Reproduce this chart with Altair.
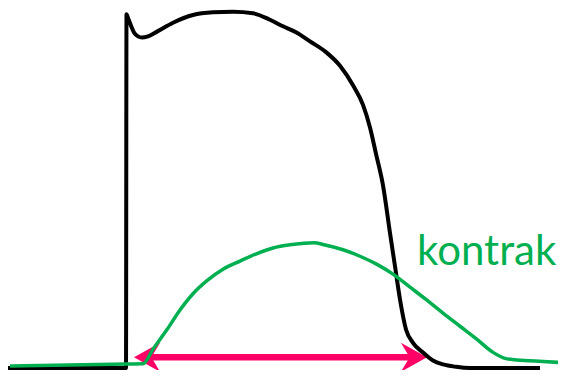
import altair as alt
import pandas as pd

# ---- data ----
# Action potential (black): time (ms, 0 = upstroke) and membrane potential (mV)
ap_t = [-119, 0, 0.5, 2, 5, 8, 12, 16, 22, 31, 47, 67, 87, 107, 127, 144, 157, 170,
        184, 200, 214, 227, 237, 244, 250, 257, 264, 269, 274, 280, 287, 297, 307,
        317, 330, 344, 414]
ap_v = [-90, -90, 29.3, 28.0, 25.4, 23.1, 21.8, 21.4, 21.8, 23.4, 26.4, 29.0, 29.9,
        30.1, 29.6, 27.4, 25.2, 23.2, 20.1, 16.5, 11.9, 5.3, -1.3, -8.9, -17.8,
        -28.4, -44.5, -55.7, -66.9, -77.0, -81.5, -84.8, -87.5, -88.8, -89.6, -90, -90]

# Contraction (green): time (ms) and normalised force
c_t = [-116, 1, 17, 27, 41, 54, 67, 81, 97, 114, 131, 147, 164, 178, 188, 198,
       217, 234, 251, 267, 284, 301, 317, 334, 351, 367, 381, 391, 417, 440]
c_f = [0.0, 0.016, 0.018, 0.137, 0.296, 0.455, 0.587, 0.693, 0.786, 0.852, 0.913,
       0.958, 0.984, 0.996, 1.0, 0.985, 0.944, 0.891, 0.825, 0.746, 0.640, 0.534,
       0.429, 0.323, 0.217, 0.111, 0.058, 0.050, 0.037, 0.026]

# Double arrow (duration of contraction)
arrow_t = [8, 301]
arrow_v = -86.4

label = "kontrak"
label_t = 291
label_v = -55.4

# ---- styling ----
BLACK = "#000000"
GREEN = "#00B050"
PINK = "#FF0066"
T_DOMAIN = [-118, 432]
V_DOMAIN = [-90.674, 31.365]
F_DOMAIN = [-0.0321, 2.9057]
HEAD = 14.5  # half-size of arrow head in px (1 ms == 1 px here)
HEAD_PATH = "M1,0L-0.8,-1L-0.2,0L-0.8,1Z"

df_ap = pd.DataFrame({"t": ap_t, "v": ap_v})
df_c = pd.DataFrame({"t": c_t, "f": c_f})
df_shaft = pd.DataFrame({"t0": [arrow_t[0] + HEAD], "t1": [arrow_t[1] - HEAD], "v": [arrow_v]})
df_right = pd.DataFrame({"t": [arrow_t[1] - HEAD], "v": [arrow_v]})
df_left = pd.DataFrame({"t": [arrow_t[0] + HEAD], "v": [arrow_v]})
df_label = pd.DataFrame({"t": [label_t], "v": [label_v], "text": [label]})

xs = alt.Scale(domain=T_DOMAIN, nice=False, zero=False)
vs = alt.Scale(domain=V_DOMAIN, nice=False, zero=False)
fs = alt.Scale(domain=F_DOMAIN, nice=False, zero=False)

shaft = alt.Chart(df_shaft).mark_rule(color=PINK, strokeWidth=6.5).encode(
    x=alt.X("t0:Q", scale=xs, axis=None),
    x2="t1:Q",
    y=alt.Y("v:Q", scale=vs, axis=None),
)
head_r = alt.Chart(df_right).mark_point(
    shape=HEAD_PATH, size=(2 * HEAD) ** 2, filled=True, opacity=1,
    color=PINK, strokeWidth=0, angle=0,
).encode(x=alt.X("t:Q", scale=xs, axis=None), y=alt.Y("v:Q", scale=vs, axis=None))
head_l = alt.Chart(df_left).mark_point(
    shape=HEAD_PATH, size=(2 * HEAD) ** 2, filled=True, opacity=1,
    color=PINK, strokeWidth=0, angle=180,
).encode(x=alt.X("t:Q", scale=xs, axis=None), y=alt.Y("v:Q", scale=vs, axis=None))

ap = alt.Chart(df_ap).mark_line(
    color=BLACK, strokeWidth=4, interpolate="monotone"
).encode(
    x=alt.X("t:Q", scale=xs, axis=None),
    y=alt.Y("v:Q", scale=vs, axis=None),
    order="t:Q",
)

contr = alt.Chart(df_c).mark_line(
    color=GREEN, strokeWidth=3.5, interpolate="monotone"
).encode(
    x=alt.X("t:Q", scale=xs, axis=None),
    y=alt.Y("f:Q", scale=fs, axis=None),
    order="t:Q",
)

txt = alt.Chart(df_label).mark_text(
    font="Lato", fontSize=42, color=GREEN, align="left", baseline="alphabetic"
).encode(
    x=alt.X("t:Q", scale=xs, axis=None),
    y=alt.Y("v:Q", scale=vs, axis=None),
    text="text:N",
)

chart = (
    alt.layer(shaft, head_r, head_l, ap, contr, txt)
    .resolve_scale(y="independent")
    .properties(width=550, height=362, padding=0,
                autosize=alt.AutoSizeParams(type="none"),
                background="white")
    .configure_view(stroke=None)
)

chart.save("out.html", embed_options={"renderer": "svg", "actions": False})
